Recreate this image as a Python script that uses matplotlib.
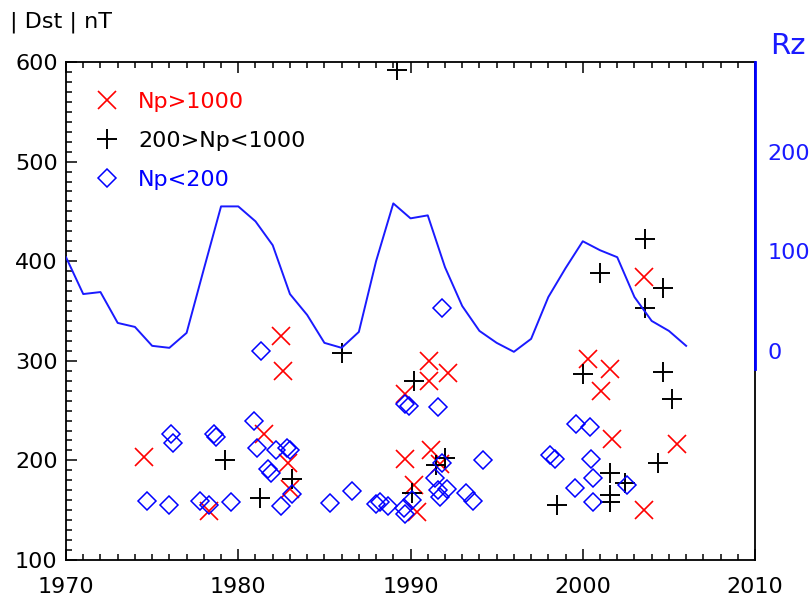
import matplotlib
matplotlib.use("Agg")
import matplotlib.pyplot as plt
from matplotlib.ticker import MultipleLocator
from matplotlib.transforms import ScaledTranslation

plt.rcParams.update({
    "font.family": "DejaVu Sans",
    "font.size": 16,
})

# Rz (sunspot number), yearly
rz_years = list(range(1970, 2007))
rz_values = [104, 67, 69, 38, 34, 15, 13, 28, 92, 155, 155, 140, 116, 67, 46, 18,
             13, 29, 100, 158, 143, 146, 94, 55, 30, 18, 9, 22, 64, 93, 120, 111,
             104, 64, 40, 30, 15]

# |Dst| of storms, Np>1000
strong_year = [1974.5, 1978.3, 1981.5, 1982.5, 1982.6, 1982.9, 1983.0, 1989.7, 1989.7,
               1990.2, 1990.4, 1991.05, 1991.1, 1991.2, 1991.7, 1992.2, 2000.3, 2001.06,
               2001.6, 2001.7, 2003.56, 2003.56, 2005.45]
strong_dst = [203, 149, 226, 325, 290, 197, 171, 267, 201,
              175, 148, 300, 280, 210, 196, 288, 302, 270,
              292, 221, 384, 150, 216]

# 200>Np<1000
mid_year = [1979.23, 1981.26, 1983.1, 1986.0, 1989.2, 1990.2, 1990.1, 1991.5, 1992.0,
            1998.5, 2000.03, 2001.0, 2001.6, 2001.6, 2001.6, 2002.45, 2003.6, 2003.6,
            2004.35, 2004.64, 2004.64, 2005.16]
mid_dst = [200, 162, 181, 308, 592, 280, 167, 195, 202,
           155, 287, 388, 187, 165, 158, 177, 422, 353,
           197, 373, 289, 262]

# Np<200
weak_year = [1974.7, 1976.0, 1976.1, 1976.2, 1977.8, 1978.3, 1978.6, 1978.7, 1979.6,
             1980.9, 1981.1, 1981.3, 1981.75, 1981.9, 1982.2, 1982.5, 1982.8, 1983.0,
             1983.1, 1985.3, 1986.6, 1988.0, 1988.2, 1988.7, 1989.6, 1989.7, 1989.7,
             1989.9, 1990.1, 1991.4, 1991.6, 1991.6, 1991.7, 1991.8, 1991.8, 1992.1,
             1993.2, 1993.6, 1994.2, 1998.1, 1998.4, 1999.55, 1999.6, 2000.4, 2000.5,
             2000.6, 2000.6, 2002.55]
weak_dst = [159, 155, 226, 217, 159, 155, 226, 223, 158,
            240, 212, 310, 191, 187, 210, 154, 212, 210,
            166, 157, 169, 156, 158, 154, 152, 146, 257,
            255, 160, 182, 170, 254, 163, 353, 197, 171,
            167, 159, 200, 205, 201, 172, 237, 234, 201,
            182, 158, 175]

fig = plt.figure(figsize=(8.11, 6.0), dpi=100)
ax = fig.add_axes([0.0814, 0.0667, 0.8496, 0.830])

ax.plot(strong_year, strong_dst, ls="none", marker="x", ms=13, mew=1.2,
        color="#ff0000", label="Np>1000")
ax.plot(mid_year, mid_dst, ls="none", marker="+", ms=14, mew=1.4,
        color="black", label="200>Np<1000")
ax.plot(weak_year, weak_dst, ls="none", marker="D", ms=9, mew=1.1,
        fillstyle="none", color="#0000ff", label="Np<200")

ax.set_xlim(1970, 2010)
ax.set_ylim(100, 600)
ax.xaxis.set_major_locator(MultipleLocator(10))
ax.xaxis.set_minor_locator(MultipleLocator(1))
ax.yaxis.set_major_locator(MultipleLocator(100))
ax.yaxis.set_minor_locator(MultipleLocator(10))
ax.tick_params(which="both", direction="in", top=True, right=True, width=1.1)
ax.tick_params(which="major", length=8)
ax.tick_params(which="minor", length=4)
ax.tick_params(axis="x", pad=12)
ax.tick_params(axis="y", pad=6)
for s in ax.spines.values():
    s.set_linewidth(1.3)

ax.legend(loc="upper left", frameon=False, fontsize=16, handlelength=1.0,
          handletextpad=0.9, borderaxespad=0.9, borderpad=0.45,
          labelspacing=0.85, labelcolor="markeredgecolor")

# Rz on the right
ax2 = ax.twinx()
ax2.plot(rz_years, rz_values, color="#1a1aff", lw=1.4)
ax2.set_ylim(-200, 300)
ax2.set_yticks([0, 100, 200])
ax2.tick_params(axis="y", length=0, pad=9, labelcolor="#1a1aff", labelsize=16)
for s in ["left", "top", "bottom"]:
    ax2.spines[s].set_visible(False)
ax2.spines["right"].set_color("#0000ff")
ax2.spines["right"].set_linewidth(2.0)
ax2.spines["right"].set_bounds(-8, 300)
off = ScaledTranslation(0, 7 / 72, fig.dpi_scale_trans)
for lab in ax2.get_yticklabels():
    lab.set_transform(lab.get_transform() + off)

fig.text(0.950, 0.923, "Rz", color="#1a1aff", fontsize=21, va="center")
fig.text(0.012, 0.963, "| Dst | nT", fontsize=16, va="center")

fig.savefig("out.png", dpi=100)
